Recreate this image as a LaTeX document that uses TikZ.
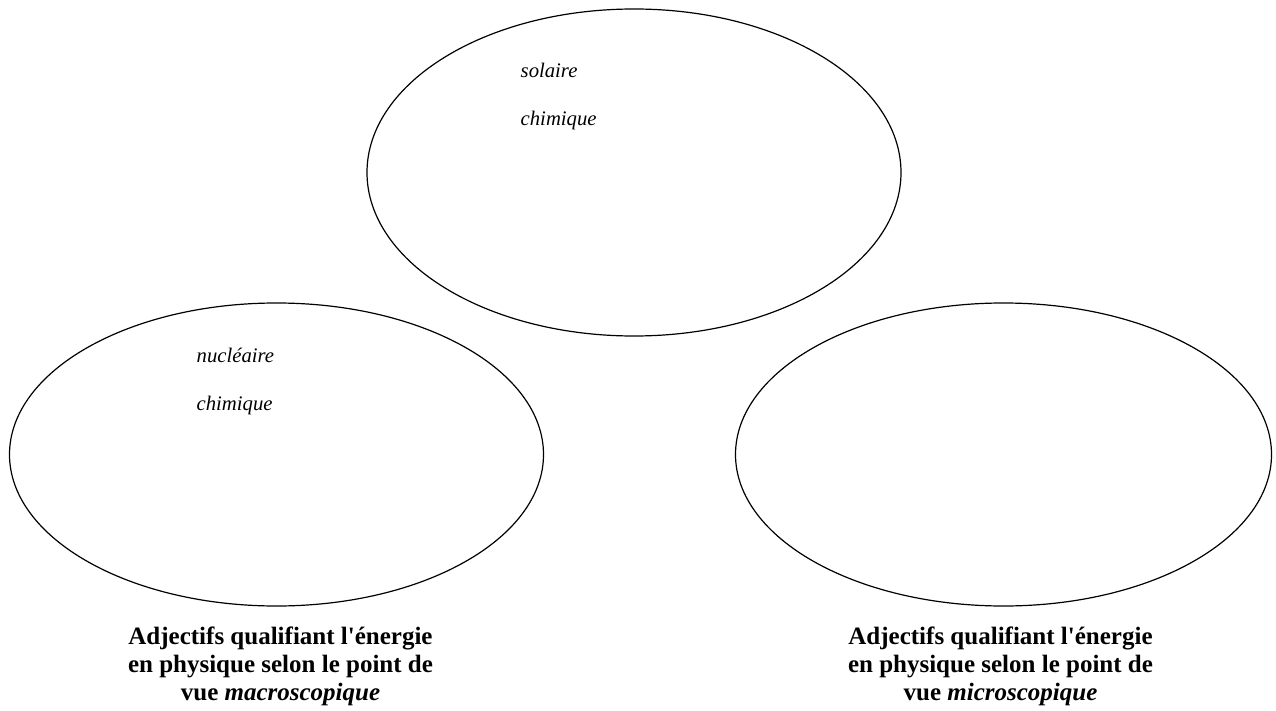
\documentclass[tikz,border=0pt]{standalone}
\usepackage{fontspec}
\setmainfont{Liberation Serif}
\usetikzlibrary{shapes.geometric}
\begin{document}
\begin{tikzpicture}[x=1pt,y=-1pt,
  bubble/.style={draw=black, line width=1.2pt, ellipse, inner sep=0pt,
    minimum width=534pt, minimum height=327pt},
  word/.style={anchor=base west, inner sep=0pt, font=\fontsize{20.7}{24}\selectfont\itshape},
  caption/.style={align=center, inner sep=0pt, font=\fontsize{25}{28}\selectfont\bfseries}]
  \useasboundingbox (0,0) rectangle (1276,711);
  % three ellipses
  \node[bubble] (top) at (634,172.5) {};
  \node[bubble, minimum height=303pt] (macro) at (276.5,454.5) {};
  \node[bubble, minimum height=303pt, minimum width=536pt] (micro) at (1003.5,454.5) {};
  % words inside the ellipses
  \node[word] (w1) at (520.5,78) {solaire};
  \node[word] (w2) at (520.5,126) {chimique};
  \node[word] (w3) at (196.5,362) {nucléaire};
  \node[word] (w4) at (196.5,410) {chimique};
  % captions under the lower ellipses
  \node[caption] (capmacro) at (280.5,666.5) {Adjectifs qualifiant l\textquotesingle énergie\\en physique selon le point de\\vue \textit{macroscopique}};
  \node[caption] (capmicro) at (1000.5,666.5) {Adjectifs qualifiant l\textquotesingle énergie\\en physique selon le point de\\vue \textit{microscopique}};
\end{tikzpicture}
\end{document}
